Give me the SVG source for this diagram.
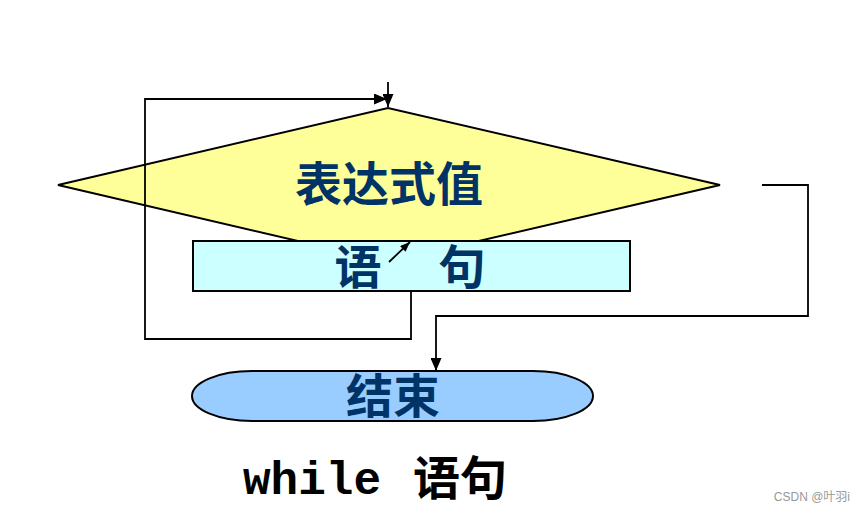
<svg xmlns="http://www.w3.org/2000/svg" width="868" height="513" viewBox="0 0 868 513">
<style>
.ln{fill:none;stroke:#000;stroke-width:1.8}
.cn{font-family:"Liberation Sans","Noto Sans CJK SC",sans-serif;font-weight:bold;font-size:47px;fill:#003366;text-anchor:middle}
</style>
<defs>
<marker id="ah" viewBox="0 0 13 11" refX="13" refY="5.5" markerWidth="13" markerHeight="11" markerUnits="userSpaceOnUse" orient="auto">
<path d="M0,0 L13,5.5 L0,11 Z" fill="#000"/>
</marker>
<marker id="ahs" viewBox="0 0 10 8" refX="10" refY="4" markerWidth="10" markerHeight="8" markerUnits="userSpaceOnUse" orient="auto">
<path d="M0,0 L10,4 L0,8 Z" fill="#000"/>
</marker>
</defs>
<rect width="868" height="513" fill="#fff"/>
<g id="decision">
<polygon points="58,185 388,108 720,185 388,262" fill="#FFFF99" stroke="#000" stroke-width="2"/>
<text class="cn" x="389" y="201">表达式值</text>
</g>
<g id="statement">
<rect x="193" y="241" width="437" height="50" fill="#CCFFFF" stroke="#000" stroke-width="2"/>
<text class="cn" y="284"><tspan x="358">语</tspan><tspan x="462">句</tspan></text>
</g>
<g id="end">
<rect x="192" y="371" width="401" height="50" rx="60" ry="25" fill="#99CCFF" stroke="#000" stroke-width="2"/>
<text class="cn" x="393" y="413">结束</text>
</g>
<g id="connectors">
<path class="ln" d="M388,82 L388,107" marker-end="url(#ah)"/>
<path class="ln" d="M411,291 L411,339 L145,339 L145,99 L387,99" marker-end="url(#ah)"/>
<path class="ln" d="M762,185 L808,185 L808,316 L436,316 L436,371" marker-end="url(#ah)"/>
<path class="ln" d="M389,262 L410,242" stroke-width="1.5" marker-end="url(#ahs)"/>
</g>
<g id="caption">
<text x="243" y="494" font-family="'Liberation Mono',monospace" font-weight="bold" font-size="46" fill="#000">while</text>
<text x="413" y="495" font-family="'Liberation Sans','Noto Sans CJK SC',sans-serif" font-weight="bold" font-size="47" fill="#000">语句</text>
</g>
<text x="850" y="501" font-family="'Liberation Sans','Noto Sans CJK SC',sans-serif" font-size="12" fill="#999" text-anchor="end">CSDN @叶羽i</text>
</svg>
